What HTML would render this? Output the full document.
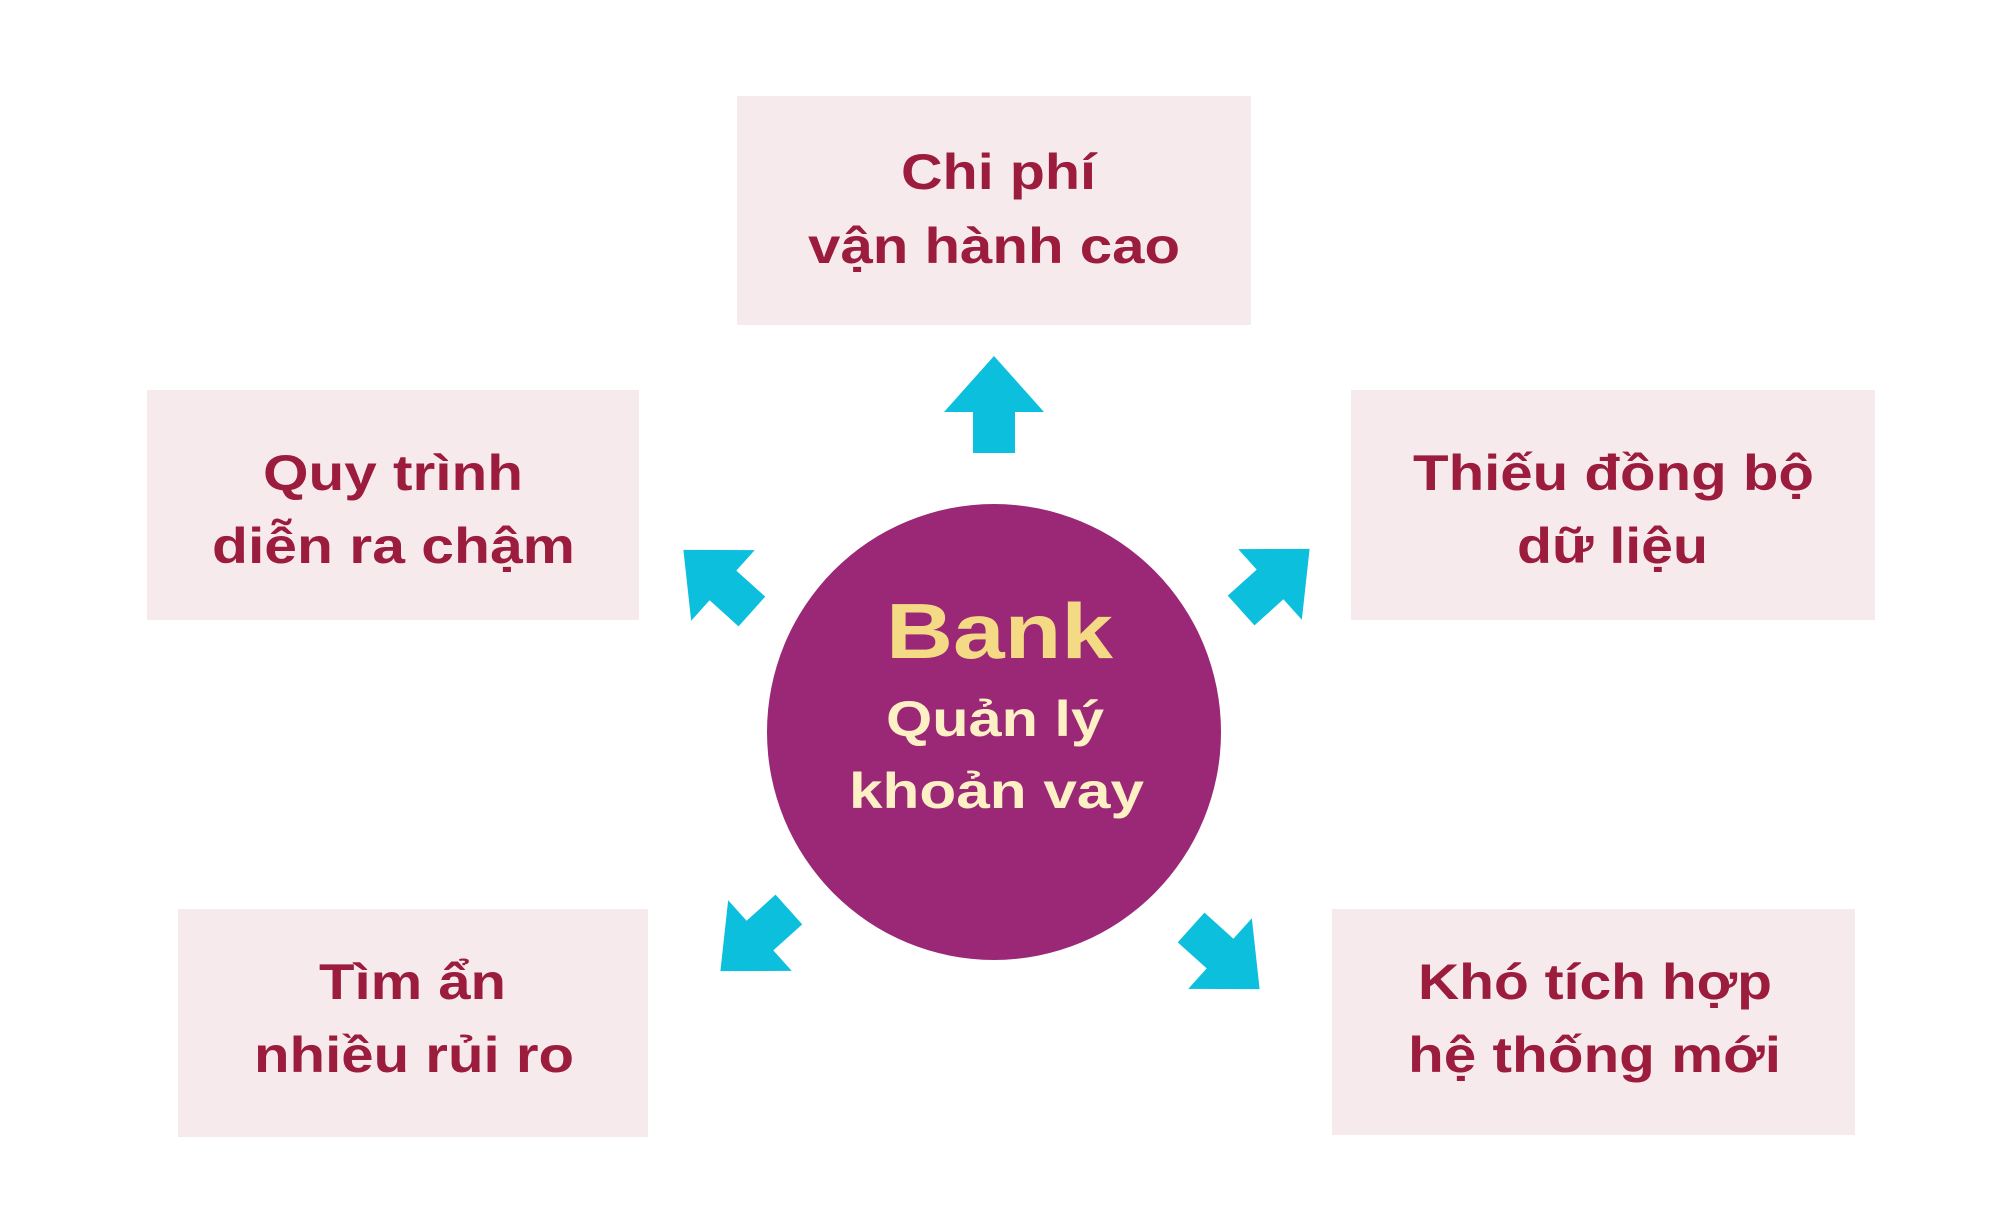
<!DOCTYPE html>
<html><head><meta charset="utf-8"><style>
html,body{margin:0;padding:0;background:#fff}
svg{display:block}
.t{font-family:"Liberation Sans",sans-serif;font-weight:bold;fill:#9b1c3c;font-size:50px}
.c{font-family:"Liberation Sans",sans-serif;font-weight:bold;fill:#fdf0c4;font-size:50px}
</style></head><body>
<svg width="1999" height="1230" viewBox="0 0 1999 1230" xmlns="http://www.w3.org/2000/svg">
<rect width="1999" height="1230" fill="#fff"/>
<g fill="#f7eaed">
<rect x="737" y="96" width="514" height="229"/>
<rect x="147" y="390" width="492" height="230"/>
<rect x="1351" y="390" width="524" height="230"/>
<rect x="178" y="909" width="470" height="228"/>
<rect x="1332" y="909" width="523" height="226"/>
</g>
<ellipse cx="994" cy="732" rx="227" ry="228" fill="#9a2876"/>
<g fill="#0bbfdd">
<path d="M0,-49 L50,7 L21,7 L21,48 L-21,48 L-21,7 L-50,7 Z" transform="translate(994,405)"/>
<path d="M0,-49 L50,7 L21,7 L21,48 L-21,48 L-21,7 L-50,7 Z" transform="translate(718,581) rotate(-48) scale(0.95)"/>
<path d="M0,-49 L50,7 L21,7 L21,48 L-21,48 L-21,7 L-50,7 Z" transform="translate(1275,580) rotate(48) scale(0.95)"/>
<path d="M0,-49 L50,7 L21,7 L21,48 L-21,48 L-21,7 L-50,7 Z" transform="translate(755,940) rotate(-132) scale(0.95)"/>
<path d="M0,-49 L50,7 L21,7 L21,48 L-21,48 L-21,7 L-50,7 Z" transform="translate(1225,958) rotate(132) scale(0.95)"/>
</g>
<g class="t">
<text x="901" y="189" textLength="195" lengthAdjust="spacingAndGlyphs">Chi phí</text>
<text x="808" y="263" textLength="372" lengthAdjust="spacingAndGlyphs">vận hành cao</text>
<text x="263" y="490" textLength="260" lengthAdjust="spacingAndGlyphs">Quy trình</text>
<text x="212" y="563" textLength="363" lengthAdjust="spacingAndGlyphs">diễn ra chậm</text>
<text x="1413" y="490" textLength="401" lengthAdjust="spacingAndGlyphs">Thiếu đồng bộ</text>
<text x="1517" y="563" textLength="191" lengthAdjust="spacingAndGlyphs">dữ liệu</text>
<text x="319" y="999" textLength="187" lengthAdjust="spacingAndGlyphs">Tìm ẩn</text>
<text x="254" y="1072" textLength="320" lengthAdjust="spacingAndGlyphs">nhiều rủi ro</text>
<text x="1418" y="999" textLength="354" lengthAdjust="spacingAndGlyphs">Khó tích hợp</text>
<text x="1408" y="1072" textLength="373" lengthAdjust="spacingAndGlyphs">hệ thống mới</text>
</g>
<text x="886" y="658" font-family="Liberation Sans,sans-serif" font-weight="bold" font-size="78" fill="#f5da86" textLength="227" lengthAdjust="spacingAndGlyphs">Bank</text>
<g class="c">
<text x="886" y="736" textLength="218" lengthAdjust="spacingAndGlyphs">Quản lý</text>
<text x="849" y="808" textLength="295" lengthAdjust="spacingAndGlyphs">khoản vay</text>
</g>
</svg>
</body></html>
